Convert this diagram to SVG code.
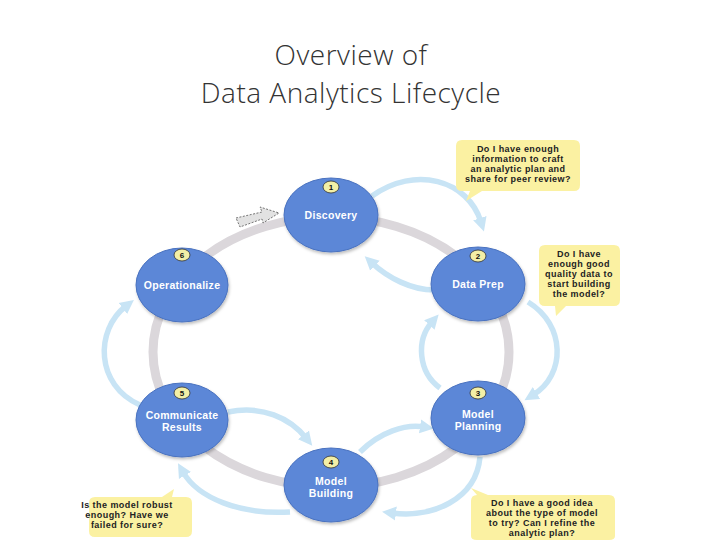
<svg xmlns="http://www.w3.org/2000/svg" width="720" height="540" viewBox="0 0 720 540">
<style>
.title{font-family:"Open Sans","Liberation Sans",sans-serif;font-weight:300;font-size:28px;fill:#333;text-anchor:middle;letter-spacing:0.5px}
.node{fill:#5b87d7;stroke:#4a72bf;stroke-width:1}
.lbl{font-family:"Liberation Sans",Arial,sans-serif;font-weight:bold;font-size:10.5px;fill:#fff;text-anchor:middle;letter-spacing:0.3px}
.badge{fill:#f3efa6;stroke:#333;stroke-width:0.8}
.num{font-family:"Liberation Sans",Arial,sans-serif;font-weight:bold;font-size:8px;fill:#111;text-anchor:middle}
.ring{fill:none;stroke:#dbd7db;stroke-width:9}
.arc{fill:none;stroke:#c8e4f5;stroke-width:5.5;marker-end:url(#ah)}
.call{fill:#fbf1a2}
.ct{font-family:"Liberation Sans",Arial,sans-serif;font-weight:bold;font-size:9px;fill:#222;text-anchor:middle;letter-spacing:0.45px}
</style>
<defs>
<marker id="ah" markerUnits="userSpaceOnUse" markerWidth="16" markerHeight="16" refX="4" refY="8" orient="auto">
<path d="M0,1 L14,8 L0,15 Z" fill="#c8e4f5"/>
</marker>
<filter id="sh" x="-20%" y="-20%" width="140%" height="150%">
<feDropShadow dx="1" dy="2" stdDeviation="1.5" flood-color="#000" flood-opacity="0.25"/>
</filter>
</defs>
<rect width="720" height="540" fill="#fff"/>
<text class="title" x="351" y="65">Overview of</text>
<text class="title" x="351" y="103">Data Analytics Lifecycle</text>

<g id="connectors">
<ellipse class="ring" cx="331" cy="352" rx="178" ry="135"/>
<path d="M236,218 L262,212 L260,207 L279,213 L263,223 L262,219 L240,227 Z" fill="#e2e2e2" stroke="#555" stroke-width="0.8" stroke-dasharray="2,1.5"/>
<path class="arc" d="M372,196 C415,165 468,180 481,222"/>
<path class="arc" d="M434,290 C412,290 388,278 372,263"/>
<path class="arc" d="M528,302 C566,325 566,375 533,395"/>
<path class="arc" d="M440,388 C418,372 416,340 432,322"/>
<path class="arc" d="M480,457 C476,500 432,518 392,513"/>
<path class="arc" d="M360,452 C380,432 405,424 424,427"/>
<path class="arc" d="M228,412 C262,405 290,418 306,438"/>
<path class="arc" d="M290,512 C240,515 198,498 183,472"/>
<path class="arc" d="M140,405 C95,385 95,330 126,306"/>
</g>

<g id="n1"><ellipse class="node" filter="url(#sh)" cx="331" cy="215" rx="47" ry="37"/><ellipse class="badge" cx="331" cy="187" rx="8" ry="6"/><text class="num" x="331" y="190">1</text><text class="lbl" x="331" y="219">Discovery</text></g>
<g id="n2"><ellipse class="node" filter="url(#sh)" cx="478" cy="284" rx="47" ry="37"/><ellipse class="badge" cx="478" cy="256" rx="8" ry="6"/><text class="num" x="478" y="259">2</text><text class="lbl" x="478" y="288">Data Prep</text></g>
<g id="n3"><ellipse class="node" filter="url(#sh)" cx="478" cy="418" rx="47" ry="37"/><ellipse class="badge" cx="478" cy="393" rx="8" ry="6"/><text class="num" x="478" y="396">3</text><text class="lbl" x="478" y="418">Model</text><text class="lbl" x="478" y="430">Planning</text></g>
<g id="n4"><ellipse class="node" filter="url(#sh)" cx="331" cy="485" rx="47" ry="37"/><ellipse class="badge" cx="331" cy="462" rx="8" ry="6"/><text class="num" x="331" y="465">4</text><text class="lbl" x="331" y="485">Model</text><text class="lbl" x="331" y="497">Building</text></g>
<g id="n5"><ellipse class="node" filter="url(#sh)" cx="182" cy="420" rx="46" ry="37"/><ellipse class="badge" cx="182" cy="393" rx="8" ry="6"/><text class="num" x="182" y="396">5</text><text class="lbl" x="182" y="419">Communicate</text><text class="lbl" x="182" y="431">Results</text></g>
<g id="n6"><ellipse class="node" filter="url(#sh)" cx="182" cy="285" rx="46" ry="37"/><ellipse class="badge" cx="182" cy="255" rx="8" ry="6"/><text class="num" x="182" y="258">6</text><text class="lbl" x="182" y="289">Operationalize</text></g>

<g id="c1"><path class="call" d="M462,140 H574 Q580,140 580,146 V185 Q580,191 574,191 H482 L466,201 L470,191 H462 Q456,191 456,185 V146 Q456,140 462,140 Z"/>
<text class="ct" x="518" y="152">Do I have enough</text><text class="ct" x="518" y="162">information to craft</text><text class="ct" x="518" y="172">an analytic plan and</text><text class="ct" x="518" y="182">share for peer review?</text></g>
<g id="c2"><path class="call" d="M545,245 H614 Q620,245 620,251 V300 Q620,306 614,306 H566 L556,316 L555,306 H545 Q539,306 539,300 V251 Q539,245 545,245 Z"/>
<text class="ct" x="579" y="257">Do I have</text><text class="ct" x="579" y="267">enough good</text><text class="ct" x="579" y="277">quality data to</text><text class="ct" x="579" y="287">start building</text><text class="ct" x="579" y="297">the model?</text></g>
<g id="c3"><path class="call" d="M95,497 H162 L174,489 L172,497 H186 Q192,497 192,503 V531 Q192,537 186,537 H95 Q89,537 89,531 V503 Q89,497 95,497 Z"/>
<text class="ct" x="127" y="508">Is the model robust</text><text class="ct" x="127" y="518">enough? Have we</text><text class="ct" x="127" y="528">failed for sure?</text></g>
<g id="c4"><path class="call" d="M477,495 L471,488 L488,495 H609 Q615,495 615,501 V536 Q615,540 609,540 H477 Q471,540 471,536 V501 Q471,495 477,495 Z"/>
<text class="ct" x="542" y="506">Do I have a good idea</text><text class="ct" x="542" y="516">about the type of model</text><text class="ct" x="542" y="526">to try? Can I refine the</text><text class="ct" x="542" y="536">analytic plan?</text></g>
</svg>
